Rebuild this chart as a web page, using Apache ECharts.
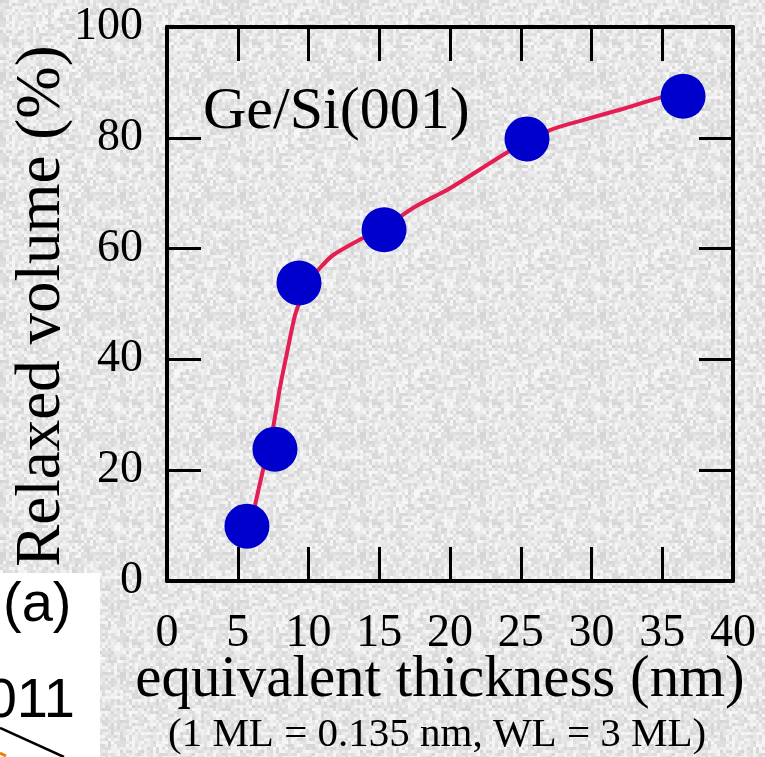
<!DOCTYPE html>
<html>
<head>
<meta charset="utf-8">
<script src="https://cdn.jsdelivr.net/npm/echarts@6/dist/echarts.min.js"></script>
<style>
html,body{margin:0;padding:0;background:#e0e0e0;}
#chart{width:765px;height:757px;}
</style>
</head>
<body>
<div id="chart"></div>
<script>
// measured points (equivalent thickness nm, relaxed volume %)
const thickness = [5.65, 7.63, 9.33, 15.34, 25.44, 36.47];
const relaxed = [9.9, 23.8, 53.8, 63.4, 79.8, 87.5];
// guide curve
const curveX = [5.88, 6.22, 6.78, 7.14, 7.49, 7.99, 8.48, 9.05, 9.4, 9.9, 10.67, 11.73, 13.85, 15.3, 17.5, 20.0, 24.0, 25.4, 27.07, 29.4, 32.2, 34.8, 36.0];
const curveY = [9.9, 13.7, 20.0, 23.8, 27.6, 35.0, 41.2, 48.0, 50.5, 53.6, 56.1, 58.8, 61.9, 63.7, 67.5, 70.9, 77.3, 79.2, 81.4, 83.2, 85.2, 87.2, 87.8];
const xTickStep = 5;
const yTickStep = 20;
const xTitle = 'equivalent thickness (nm)';
const yTitle = 'Relaxed volume (%)';
const subTitle = '(1 ML = 0.135 nm, WL = 3 ML)';
const sampleLabel = 'Ge/Si(001)';

const serif = 'Liberation Serif, Times New Roman, serif';

// decorative paper-like speckle texture (deterministic hash, not data)
function makeTexture() {
  const c = document.createElement('canvas');
  c.width = 120; c.height = 120;
  const ctx = c.getContext('2d');
  ctx.fillStyle = '#e3e3e3';
  ctx.fillRect(0, 0, 120, 120);
  for (let y = 0; y < 120; y += 3) {
    for (let x = 0; x < 120; x += 3) {
      let h = (x * 374761393 + y * 668265263) | 0;
      h = (h ^ (h >>> 13)) * 1274126177 | 0;
      h = (h ^ (h >>> 16)) & 255;
      const v = 212 + Math.round(h / 255 * 36);
      ctx.fillStyle = 'rgb(' + v + ',' + v + ',' + v + ')';
      ctx.fillRect(x, y, 3, 3);
    }
  }
  return c;
}

const chart = echarts.init(document.getElementById('chart'), null, {renderer: 'canvas'});

function frameAxis(pos, isX, showLabel) {
  return {
    type: 'value',
    position: pos,
    min: 0,
    max: isX ? 40 : 100,
    interval: isX ? xTickStep : yTickStep,
    axisLine: {show: true, onZero: false, lineStyle: {color: '#000', width: 4}},
    axisTick: {show: true, inside: true, length: 34, lineStyle: {color: '#000', width: 3}},
    splitLine: {show: false},
    axisLabel: {show: showLabel, color: '#000', fontFamily: serif, fontSize: 46, margin: isX ? 30 : 24}
  };
}

const xMain = frameAxis('bottom', true, true);
xMain.name = xTitle;
xMain.nameLocation = 'middle';
xMain.nameGap = 70;
xMain.nameMoveOverlap = false;
xMain.nameTextStyle = {color: '#000', fontFamily: serif, fontSize: 59, padding: [0, 20, 0, 0]};
const yMain = frameAxis('left', false, true);
yMain.name = yTitle;
yMain.nameLocation = 'middle';
yMain.nameGap = 93;
yMain.nameMoveOverlap = false;
yMain.nameRotate = 90;
yMain.nameTextStyle = {color: '#000', fontFamily: serif, fontSize: 63, padding: [0, 4, 0, 0]};

const option = {
  backgroundColor: {image: makeTexture(), repeat: 'repeat'},
  animation: false,
  grid: {left: 167, right: 32, top: 27, bottom: 176, containLabel: false, outerBoundsMode: 'none'},
  xAxis: [xMain, frameAxis('top', true, false)],
  yAxis: [yMain, frameAxis('right', false, false)],
  series: [
    {
      type: 'line',
      data: curveX.map((x, i) => [x, curveY[i]]),
      smooth: 0.3,
      symbol: 'none',
      lineStyle: {color: '#e41e52', width: 4},
      z: 2
    },
    {
      type: 'scatter',
      data: thickness.map((x, i) => [x, relaxed[i]]),
      symbol: 'circle',
      symbolSize: 45,
      itemStyle: {color: '#0000cc', opacity: 1},
      z: 3
    }
  ],
  graphic: [
    {type: 'text', left: 203, top: 82, style: {text: sampleLabel, font: '60px ' + serif, fill: '#000'}},
    {type: 'text', left: 168, top: 715, style: {text: subTitle, font: '41px ' + serif, fill: '#000'}},
    {type: 'rect', shape: {x: 0, y: 573, width: 100, height: 184}, style: {fill: '#fff'}},
    {type: 'text', x: 3, y: 578, style: {text: '(a)', font: '56px Liberation Sans, Arial, sans-serif', fill: '#000'}},
    {type: 'text', x: 75, y: 674, style: {text: '011', font: '56px Liberation Sans, Arial, sans-serif', fill: '#000', align: 'right'}},
    {type: 'line', shape: {x1: 0, y1: 728, x2: 64, y2: 757}, style: {stroke: '#000', lineWidth: 2.5}},
    {type: 'line', shape: {x1: 0, y1: 753, x2: 6, y2: 756}, style: {stroke: '#f08000', lineWidth: 3}}
  ]
};
chart.setOption(option);
</script>
</body>
</html>
